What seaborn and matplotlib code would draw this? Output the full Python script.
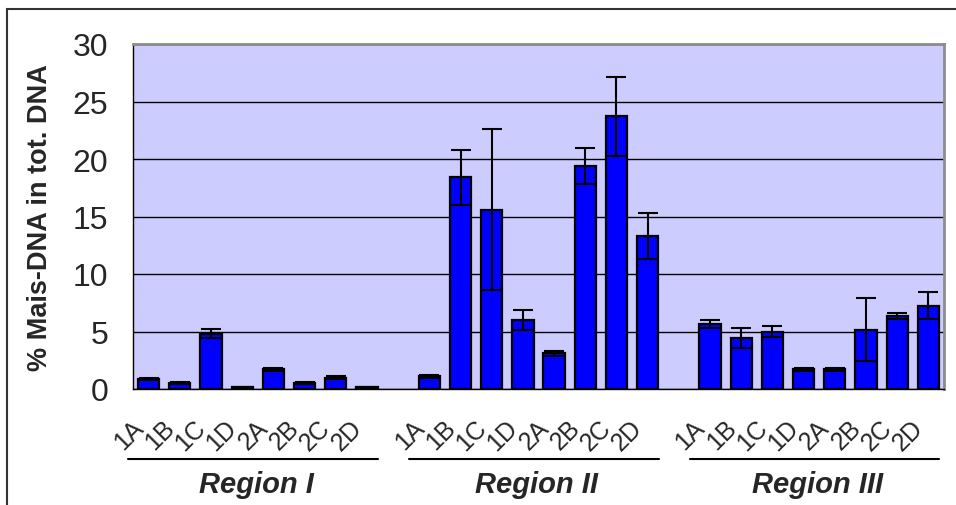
import numpy as np
import pandas as pd
import seaborn as sns
import matplotlib.pyplot as plt
from matplotlib.transforms import ScaledTranslation, blended_transform_factory
from matplotlib.patches import Rectangle

# sample labels, the same in every region
samples = ["1A", "1B", "1C", "1D", "2A", "2B", "2C", "2D"]
regions = ["Region I", "Region II", "Region III"]

# % Mais-DNA in total DNA
region1 = [0.9, 0.55, 4.8, 0.15, 1.7, 0.5, 1.0, 0.15]
region2 = [1.1, 18.4, 15.6, 6.0, 3.1, 19.4, 23.7, 13.3]
region3 = [5.65, 4.45, 5.0, 1.7, 1.7, 5.15, 6.35, 7.25]

# error bar half widths
err1 = [0.1, 0.1, 0.4, 0.05, 0.1, 0.1, 0.1, 0.05]
err2 = [0.15, 2.4, 7.0, 0.9, 0.2, 1.6, 3.4, 2.0]
err3 = [0.35, 0.85, 0.5, 0.15, 0.15, 2.75, 0.3, 1.15]

vals = [region1, region2, region3]
errs = [err1, err2, err3]

rows = []
for g, reg in enumerate(regions):
    for i, s in enumerate(samples):
        # one empty slot between regions
        rows.append({"pos": g * (len(samples) + 1) + i, "sample": s, "region": reg,
                     "value": vals[g][i], "err": errs[g][i]})
df = pd.DataFrame(rows)

sns.set_style("white")
plt.rcParams["font.family"] = ["Liberation Sans", "DejaVu Sans"]

fig = plt.figure(figsize=(9.56, 5.06), dpi=100)
ax = fig.add_axes([133 / 956, 1 - 390 / 506, (944 - 133) / 956, (390 - 45) / 506])
ax.set_facecolor("#CCCCFF")

sns.barplot(data=df, x="pos", y="value", native_scale=True, width=0.68,
            color="#0000FF", saturation=1, edgecolor="black", linewidth=1.6,
            errorbar=None, ax=ax, zorder=3)
ax.errorbar(df["pos"], df["value"], yerr=df["err"], fmt="none", ecolor="black",
            elinewidth=1.5, capsize=7, capthick=1.5, zorder=4)

nslots = len(regions) * (len(samples) + 1) - 1
ax.set_xlim(-0.5, nslots - 0.5)
ax.set_ylim(0, 30)
ax.set_yticks(np.arange(0, 31, 5))
ax.yaxis.grid(True, color="black", linewidth=1)
ax.set_axisbelow(True)

ax.set_xticks(df["pos"])
ax.set_xticklabels(df["sample"], rotation=45, ha="right", va="center",
                   rotation_mode="anchor", fontsize=18)
ax.set_xticks(np.arange(-0.5, nslots, 1), minor=True)
ax.tick_params(axis="x", which="major", length=0, pad=25)
ax.tick_params(axis="x", which="minor", length=8, width=1, color="black", direction="out")
ax.tick_params(axis="y", length=8, width=1, color="black", direction="out", labelsize=23, pad=10)
shift = ScaledTranslation(-0.09, 0, fig.dpi_scale_trans)
for lbl in ax.get_xticklabels():
    lbl.set_transform(lbl.get_transform() + shift)

for side in ["top", "right"]:
    ax.spines[side].set_color("#8C8C8C")
    ax.spines[side].set_linewidth(2)
for side in ["left", "bottom"]:
    ax.spines[side].set_color("black")
    ax.spines[side].set_linewidth(1)

ax.set_xlabel("")
ax.set_ylabel("% Mais-DNA in tot. DNA", fontsize=19.5, fontweight="bold", labelpad=14)

# region brackets and names under the sample labels
trans = blended_transform_factory(ax.transData, ax.transAxes)
for g, reg in enumerate(regions):
    start = g * (len(samples) + 1)
    x0, x1 = start - 0.65, start + len(samples) - 0.65
    ax.plot([x0, x1], [-0.203, -0.203], color="black", linewidth=1.5,
            transform=trans, clip_on=False)
    ax.text((x0 + x1) / 2 + 0.1, -0.275, reg, transform=trans, ha="center", va="center",
            fontsize=21, fontweight="bold", fontstyle="italic")

# outer chart border, cut off at the right and bottom
fig.patches.append(Rectangle((7 / 956, -0.1), 1.2, 1 - 10 / 506 + 0.1, transform=fig.transFigure,
                             fill=False, edgecolor="#333333", linewidth=1.5))

fig.savefig("out.png", dpi=100)
